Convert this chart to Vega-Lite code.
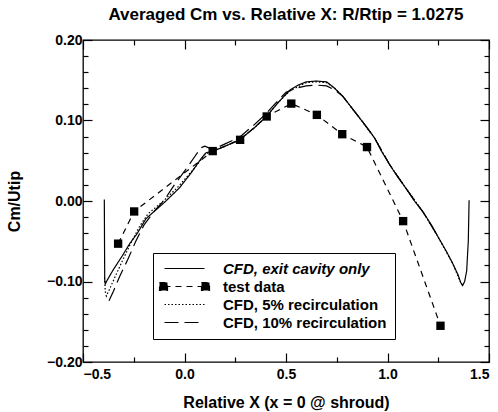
{
  "$schema": "https://vega.github.io/schema/vega-lite/v6.json",
  "width": 406,
  "height": 322,
  "autosize": {"type": "none"},
  "padding": {"left": 83, "top": 40, "right": 9, "bottom": 50},
  "background": "white",
  "title": {"text": "Averaged Cm vs. Relative X: R/Rtip = 1.0275", "font": "Liberation Sans", "fontSize": 17, "fontWeight": "bold", "color": "black", "anchor": "middle", "offset": 9},
  "config": {
    "view": {"stroke": "black", "strokeWidth": 1.3},
    "axis": {"grid": false, "domain": false, "tickColor": "black", "tickWidth": 1.2, "labelFont": "Liberation Sans", "labelFontSize": 14, "labelFontWeight": "bold", "labelColor": "black", "titleFont": "Liberation Sans", "titleFontSize": 16, "titleFontWeight": "bold", "titleColor": "black"}
  },
  "datasets": {
    "cfd": [
      {"series": "CFD, exit cavity only", "x": -0.395, "y": 0.002},
      {"series": "CFD, exit cavity only", "x": -0.394, "y": -0.05},
      {"series": "CFD, exit cavity only", "x": -0.393, "y": -0.098},
      {"series": "CFD, exit cavity only", "x": -0.39, "y": -0.103},
      {"series": "CFD, exit cavity only", "x": -0.38, "y": -0.098},
      {"series": "CFD, exit cavity only", "x": -0.35, "y": -0.085},
      {"series": "CFD, exit cavity only", "x": -0.306, "y": -0.068},
      {"series": "CFD, exit cavity only", "x": -0.27, "y": -0.053},
      {"series": "CFD, exit cavity only", "x": -0.232, "y": -0.04},
      {"series": "CFD, exit cavity only", "x": -0.19, "y": -0.022},
      {"series": "CFD, exit cavity only", "x": -0.1, "y": -0.002},
      {"series": "CFD, exit cavity only", "x": -0.026, "y": 0.016},
      {"series": "CFD, exit cavity only", "x": 0.03, "y": 0.034},
      {"series": "CFD, exit cavity only", "x": 0.08, "y": 0.052},
      {"series": "CFD, exit cavity only", "x": 0.106, "y": 0.06},
      {"series": "CFD, exit cavity only", "x": 0.14, "y": 0.062},
      {"series": "CFD, exit cavity only", "x": 0.2, "y": 0.068},
      {"series": "CFD, exit cavity only", "x": 0.27, "y": 0.076},
      {"series": "CFD, exit cavity only", "x": 0.34, "y": 0.09},
      {"series": "CFD, exit cavity only", "x": 0.4, "y": 0.104},
      {"series": "CFD, exit cavity only", "x": 0.46, "y": 0.122},
      {"series": "CFD, exit cavity only", "x": 0.52, "y": 0.138},
      {"series": "CFD, exit cavity only", "x": 0.56, "y": 0.144},
      {"series": "CFD, exit cavity only", "x": 0.6, "y": 0.148},
      {"series": "CFD, exit cavity only", "x": 0.65, "y": 0.149},
      {"series": "CFD, exit cavity only", "x": 0.7, "y": 0.148},
      {"series": "CFD, exit cavity only", "x": 0.74, "y": 0.14},
      {"series": "CFD, exit cavity only", "x": 0.78, "y": 0.13},
      {"series": "CFD, exit cavity only", "x": 0.82, "y": 0.117},
      {"series": "CFD, exit cavity only", "x": 0.863, "y": 0.103},
      {"series": "CFD, exit cavity only", "x": 0.9, "y": 0.091},
      {"series": "CFD, exit cavity only", "x": 0.937, "y": 0.078},
      {"series": "CFD, exit cavity only", "x": 0.97, "y": 0.062},
      {"series": "CFD, exit cavity only", "x": 1.011, "y": 0.045},
      {"series": "CFD, exit cavity only", "x": 1.05, "y": 0.03},
      {"series": "CFD, exit cavity only", "x": 1.093, "y": 0.015},
      {"series": "CFD, exit cavity only", "x": 1.13, "y": 0.001},
      {"series": "CFD, exit cavity only", "x": 1.176, "y": -0.014},
      {"series": "CFD, exit cavity only", "x": 1.217, "y": -0.03},
      {"series": "CFD, exit cavity only", "x": 1.25, "y": -0.045},
      {"series": "CFD, exit cavity only", "x": 1.291, "y": -0.063},
      {"series": "CFD, exit cavity only", "x": 1.32, "y": -0.077},
      {"series": "CFD, exit cavity only", "x": 1.348, "y": -0.092},
      {"series": "CFD, exit cavity only", "x": 1.36, "y": -0.101},
      {"series": "CFD, exit cavity only", "x": 1.37, "y": -0.105},
      {"series": "CFD, exit cavity only", "x": 1.38, "y": -0.1},
      {"series": "CFD, exit cavity only", "x": 1.39, "y": -0.087},
      {"series": "CFD, exit cavity only", "x": 1.398, "y": -0.05},
      {"series": "CFD, exit cavity only", "x": 1.402, "y": 0.001}
    ],
    "recirc": [
      {"series": "CFD, 5% recirculation", "x": -0.394, "y": -0.095},
      {"series": "CFD, 5% recirculation", "x": -0.39, "y": -0.113},
      {"series": "CFD, 5% recirculation", "x": -0.385, "y": -0.118},
      {"series": "CFD, 5% recirculation", "x": -0.37, "y": -0.11},
      {"series": "CFD, 5% recirculation", "x": -0.34, "y": -0.093},
      {"series": "CFD, 5% recirculation", "x": -0.3, "y": -0.071},
      {"series": "CFD, 5% recirculation", "x": -0.26, "y": -0.05},
      {"series": "CFD, 5% recirculation", "x": -0.22, "y": -0.031},
      {"series": "CFD, 5% recirculation", "x": -0.18, "y": -0.016},
      {"series": "CFD, 5% recirculation", "x": -0.1, "y": 0.001},
      {"series": "CFD, 5% recirculation", "x": -0.03, "y": 0.018},
      {"series": "CFD, 5% recirculation", "x": 0.05, "y": 0.041},
      {"series": "CFD, 5% recirculation", "x": 0.1, "y": 0.058},
      {"series": "CFD, 5% recirculation", "x": 0.14, "y": 0.062},
      {"series": "CFD, 5% recirculation", "x": 0.2, "y": 0.068},
      {"series": "CFD, 5% recirculation", "x": 0.27, "y": 0.076},
      {"series": "CFD, 5% recirculation", "x": 0.34, "y": 0.09},
      {"series": "CFD, 5% recirculation", "x": 0.4, "y": 0.104},
      {"series": "CFD, 5% recirculation", "x": 0.46, "y": 0.122},
      {"series": "CFD, 5% recirculation", "x": 0.52, "y": 0.137},
      {"series": "CFD, 5% recirculation", "x": 0.6, "y": 0.147},
      {"series": "CFD, 5% recirculation", "x": 0.65, "y": 0.148},
      {"series": "CFD, 5% recirculation", "x": 0.7, "y": 0.147},
      {"series": "CFD, 5% recirculation", "x": 0.74, "y": 0.14},
      {"series": "CFD, 5% recirculation", "x": 0.78, "y": 0.13},
      {"series": "CFD, 5% recirculation", "x": 0.82, "y": 0.117},
      {"series": "CFD, 5% recirculation", "x": 0.863, "y": 0.103},
      {"series": "CFD, 5% recirculation", "x": 0.937, "y": 0.078},
      {"series": "CFD, 5% recirculation", "x": 1.011, "y": 0.045},
      {"series": "CFD, 5% recirculation", "x": 1.093, "y": 0.015},
      {"series": "CFD, 5% recirculation", "x": 1.176, "y": -0.014},
      {"series": "CFD, 5% recirculation", "x": 1.25, "y": -0.045},
      {"series": "CFD, 5% recirculation", "x": 1.32, "y": -0.077},
      {"series": "CFD, 5% recirculation", "x": 1.36, "y": -0.101},
      {"series": "CFD, 5% recirculation", "x": 1.37, "y": -0.105},
      {"series": "CFD, 10% recirculation", "x": -0.372, "y": -0.124},
      {"series": "CFD, 10% recirculation", "x": -0.35, "y": -0.112},
      {"series": "CFD, 10% recirculation", "x": -0.32, "y": -0.094},
      {"series": "CFD, 10% recirculation", "x": -0.28, "y": -0.073},
      {"series": "CFD, 10% recirculation", "x": -0.24, "y": -0.05},
      {"series": "CFD, 10% recirculation", "x": -0.2, "y": -0.03},
      {"series": "CFD, 10% recirculation", "x": -0.15, "y": -0.013},
      {"series": "CFD, 10% recirculation", "x": -0.1, "y": 0.001},
      {"series": "CFD, 10% recirculation", "x": -0.05, "y": 0.02},
      {"series": "CFD, 10% recirculation", "x": 0.0, "y": 0.037},
      {"series": "CFD, 10% recirculation", "x": 0.05, "y": 0.055},
      {"series": "CFD, 10% recirculation", "x": 0.08, "y": 0.066},
      {"series": "CFD, 10% recirculation", "x": 0.1, "y": 0.068},
      {"series": "CFD, 10% recirculation", "x": 0.12, "y": 0.066},
      {"series": "CFD, 10% recirculation", "x": 0.14, "y": 0.064},
      {"series": "CFD, 10% recirculation", "x": 0.2, "y": 0.071},
      {"series": "CFD, 10% recirculation", "x": 0.27, "y": 0.079},
      {"series": "CFD, 10% recirculation", "x": 0.34, "y": 0.094},
      {"series": "CFD, 10% recirculation", "x": 0.4, "y": 0.108},
      {"series": "CFD, 10% recirculation", "x": 0.45, "y": 0.122},
      {"series": "CFD, 10% recirculation", "x": 0.5, "y": 0.135},
      {"series": "CFD, 10% recirculation", "x": 0.55, "y": 0.14},
      {"series": "CFD, 10% recirculation", "x": 0.6, "y": 0.143},
      {"series": "CFD, 10% recirculation", "x": 0.65, "y": 0.144},
      {"series": "CFD, 10% recirculation", "x": 0.7, "y": 0.143},
      {"series": "CFD, 10% recirculation", "x": 0.74, "y": 0.138},
      {"series": "CFD, 10% recirculation", "x": 0.78, "y": 0.13},
      {"series": "CFD, 10% recirculation", "x": 0.82, "y": 0.117},
      {"series": "CFD, 10% recirculation", "x": 0.863, "y": 0.103},
      {"series": "CFD, 10% recirculation", "x": 0.937, "y": 0.078},
      {"series": "CFD, 10% recirculation", "x": 1.011, "y": 0.045},
      {"series": "CFD, 10% recirculation", "x": 1.093, "y": 0.015},
      {"series": "CFD, 10% recirculation", "x": 1.176, "y": -0.014},
      {"series": "CFD, 10% recirculation", "x": 1.25, "y": -0.045}
    ],
    "test": [
      {"series": "test data", "x": -0.327, "y": -0.053},
      {"series": "test data", "x": -0.248, "y": -0.013},
      {"series": "test data", "x": 0.139, "y": 0.062},
      {"series": "test data", "x": 0.274, "y": 0.076},
      {"series": "test data", "x": 0.405, "y": 0.105},
      {"series": "test data", "x": 0.526, "y": 0.121},
      {"series": "test data", "x": 0.652, "y": 0.107},
      {"series": "test data", "x": 0.777, "y": 0.083},
      {"series": "test data", "x": 0.899, "y": 0.067},
      {"series": "test data", "x": 1.077, "y": -0.025},
      {"series": "test data", "x": 1.261, "y": -0.155}
    ]
  },
  "encoding": {
    "x": {"field": "x", "type": "quantitative", "scale": {"domain": [-0.5, 1.5], "nice": false, "zero": false}},
    "y": {"field": "y", "type": "quantitative", "scale": {"domain": [-0.2, 0.2], "nice": false, "zero": false}}
  },
  "layer": [
    {
      "data": {"name": "cfd"},
      "mark": {"type": "line", "color": "black", "strokeWidth": 1.2},
      "encoding": {
        "x": {"field": "x", "type": "quantitative", "axis": {"orient": "bottom", "values": [-0.5, 0, 0.5, 1, 1.5], "format": ".1f", "tickSize": -9, "labelPadding": 14, "title": "Relative X (x = 0 @ shroud)", "titlePadding": 13}},
        "y": {"field": "y", "type": "quantitative", "axis": {"orient": "left", "values": [-0.2, -0.1, 0, 0.1, 0.2], "format": ".2f", "tickSize": -9, "labelPadding": 10, "title": "Cm/Utip", "titlePadding": 24}},
        "strokeDash": {"field": "series", "type": "nominal", "scale": {"domain": ["CFD, exit cavity only", "test data", "CFD, 5% recirculation", "CFD, 10% recirculation"], "range": [[1, 0], [6, 5], [1.5, 2], [14, 6]]},
          "legend": {"title": null, "orient": "none", "legendX": 70, "legendY": 213, "padding": 8, "strokeColor": "black", "fillColor": "white", "symbolSize": 100, "symbolOffset": 16, "symbolStrokeWidth": 1.2, "symbolStrokeColor": "black", "labelFont": "Liberation Sans", "labelFontSize": 15, "labelFontWeight": "bold", "labelColor": "black", "labelOffset": 31, "labelLimit": 300, "rowPadding": 2,
            "encode": {
              "symbols": {"update": {
                "shape": {"signal": "datum.value === 'test data' ? 'M-4,0H4M-5,-0.8h1.6v1.6h-1.6zM3.4,-0.8h1.6v1.6h-1.6z' : 'M-4,0H4'"},
                "fill": {"signal": "datum.value === 'test data' ? 'black' : 'transparent'"},
                "stroke": {"value": "black"},
                "strokeWidth": {"value": 1.2}
              }},
              "labels": {"update": {"fontStyle": {"signal": "datum.value === 'CFD, exit cavity only' ? 'italic' : 'normal'"}}}
            }}}
      }
    },
    {
      "data": {"name": "recirc"},
      "mark": {"type": "line", "color": "black", "strokeWidth": 1.2},
      "encoding": {
        "x": {"field": "x", "type": "quantitative", "axis": {"orient": "bottom", "values": [-0.25, 0.25, 0.75, 1.25], "tickSize": -5, "labels": false, "title": null}},
        "y": {"field": "y", "type": "quantitative", "axis": {"orient": "left", "values": [-0.18, -0.16, -0.14, -0.12, -0.08, -0.06, -0.04, -0.02, 0.02, 0.04, 0.06, 0.08, 0.12, 0.14, 0.16, 0.18], "tickSize": -5, "labels": false, "title": null}},
        "strokeDash": {"field": "series", "type": "nominal"}
      }
    },
    {
      "data": {"name": "test"},
      "mark": {"type": "line", "color": "black", "strokeWidth": 1.2},
      "encoding": {
        "x": {"field": "x", "type": "quantitative", "axis": {"orient": "top", "values": [-0.5, 0, 0.5, 1, 1.5], "tickSize": -9, "labels": false, "title": null}},
        "y": {"field": "y", "type": "quantitative", "axis": {"orient": "right", "values": [-0.2, -0.1, 0, 0.1, 0.2], "tickSize": -9, "labels": false, "title": null}},
        "strokeDash": {"field": "series", "type": "nominal"}
      }
    },
    {
      "data": {"name": "test"},
      "mark": {"type": "point", "shape": "square", "filled": true, "color": "black", "size": 70, "opacity": 1},
      "encoding": {
        "x": {"field": "x", "type": "quantitative", "axis": {"orient": "top", "values": [-0.25, 0.25, 0.75, 1.25], "tickSize": -5, "labels": false, "title": null}},
        "y": {"field": "y", "type": "quantitative", "axis": {"orient": "right", "values": [-0.18, -0.16, -0.14, -0.12, -0.08, -0.06, -0.04, -0.02, 0.02, 0.04, 0.06, 0.08, 0.12, 0.14, 0.16, 0.18], "tickSize": -5, "labels": false, "title": null}}
      }
    }
  ],
  "resolve": {"axis": {"x": "independent", "y": "independent"}}
}
